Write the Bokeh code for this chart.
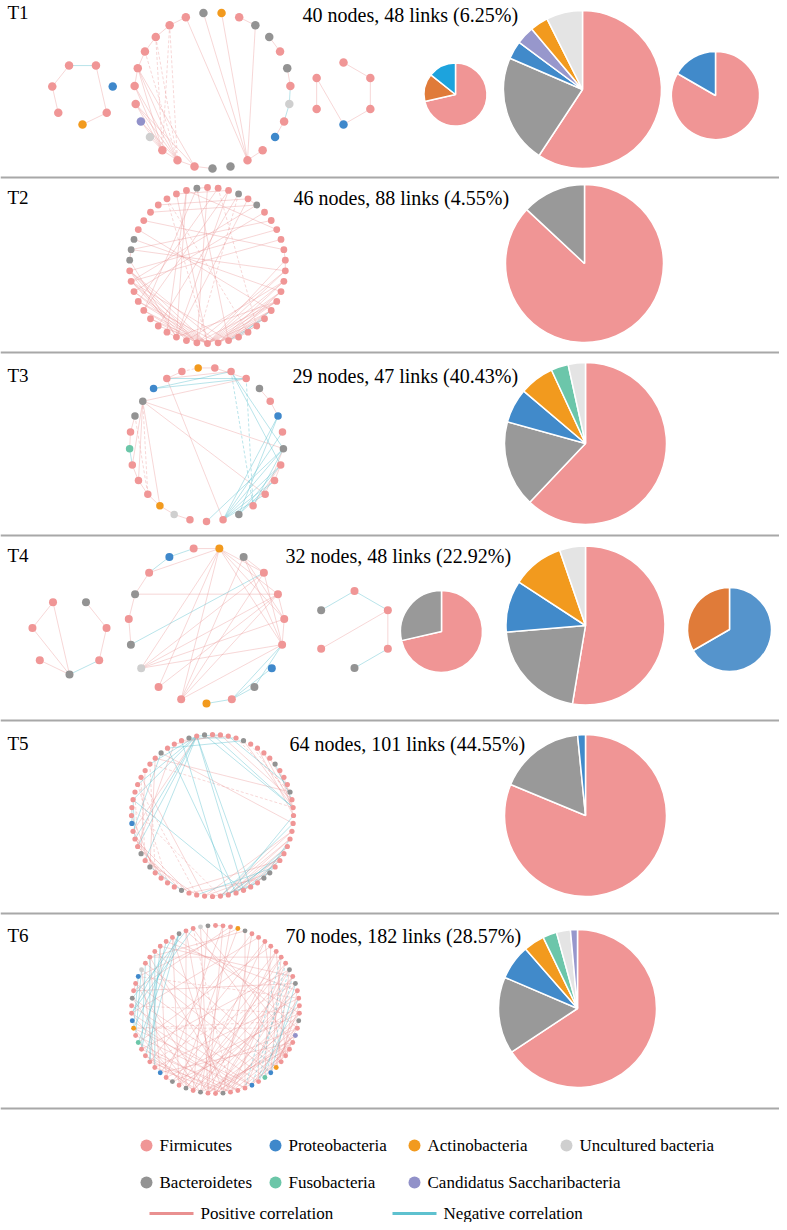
import math
from bokeh.plotting import figure
from bokeh.models import Range1d
from bokeh.embed import file_html
from bokeh.resources import INLINE
from bokeh.core.properties import value

# ---------------- data ----------------
panels = ["T1", "T2", "T3", "T4", "T5", "T6"]
n_nodes = [40, 46, 29, 32, 64, 70]
n_links = [48, 88, 47, 48, 101, 182]
neg_share = ["6.25%", "4.55%", "40.43%", "22.92%", "44.55%", "28.57%"]

phyla_codes = ["F", "P", "A", "U", "B", "S", "C"]
phyla_names = ["Firmicutes", "Proteobacteria", "Actinobacteria", "Uncultured bacteria",
               "Bacteroidetes", "Fusobacteria", "Candidatus Saccharibacteria"]
corr_names = ["Positive correlation", "Negative correlation"]

# node phylum sequences of every module (clockwise)
t1_left_nodes = "AFFFFPF"
t1_main_nodes = "BFFFUCFFFFFFFBAFBBFBFUFPFFB"
t1_right_nodes = "FFFPFF"
t2_nodes = "FFFBFBFFFFFFFFFFFFFFFFFFFFFFFFFFFFFBBBFFFFFFFB"
t3_nodes = "FFFBFPFBFFFFBFFFUAFFFSFBBPFFA"
t4_left_nodes = "BFFFBFF"
t4_main_nodes = "AFFUBFBFPFABFFFFPBF"
t4_right_nodes = "FFFBFB"
t5_nodes = "FFFFBFFFFBFFFBFFFFFFFFFFBBFFFFFFFFFFBFFFFBFBFFFPFFFFFFFFFBFFFBFB"
t6_nodes = "FFFABFFFFFFFBFBFFFFBFCFFFFAPSFPFFFBFFBFBFBFPFFFFSFAPFFBFFPUFFFFFFBFFUB"

# links: "a-b", suffix n = negative correlation, d = dashed
t1_left_links = "3-4n 3-2 2-1 4-6 6-0"
t1_main_links = ("12-25 13-25 14-25 16-25 15-16 17-18 19-20 20-21n 21-22n 24-25 22-23 "
                 "11-10 10-9 9-8 8-7 11-2d 11-3d 10-2d 10-3d 9-2d 8-2 8-3 8-1 7-2 7-3 "
                 "6-2 6-3 5-2 4-3 3-2 2-1 6-1 5-3 12-11 1-0")
t1_right_links = "0-1 1-2 2-3 5-3 5-4"
t2_links = ("34-23 34-24 34-22 33-23 33-24 33-21 32-23 32-24 31-23 31-22 30-24 30-23 29-24 "
            "29-23 28-23 35-26 34-26 33-25 13-23 13-22 14-23 14-22 14-21 15-23 15-22 15-24 "
            "16-23 16-21 16-22 17-22 17-23 18-22 18-21 12-23 12-24 11-23 13-25 15-26 43-23 "
            "42-23d 44-26 45-30 2-30 1-31 5-33 8-34 4-26 2-26 45-21 41-4 43-2 44-8 6-32 3-28 "
            "9-33 7-36 40-5 39-10 42-19d 1-18d 0-24 44-27 3-24d 38-16 37-14 36-12 45-0 4-5 "
            "10-11 11-12 19-20 20-21 26-27 35-36 17-21n 16-20n")
t3_links = ("27-28d 28-0 26-1 26-2n 25-2n 25-1n 24-2 26-13 24-7 24-10 24-19 24-18d 24-17 "
            "24-20 23-22 22-21 21-20n 20-19 19-18 18-17 23-18d 16-15 1-11nd 2-11nd 1-7n 1-8n "
            "13-5n 13-6n 13-7n 13-8n 13-9n 13-10n 12-5n 12-8n 12-9n 11-7n 11-8 10-7 9-8 3-4 "
            "4-5 0-2 7-14n 26-27 17-16")
t4_left_links = "3-2 3-0 2-0 1-0 0-6n 4-5 5-6"
t4_main_links = ("8-9n 8-7n 9-10 10-7 10-3 10-2 10-1 10-13 10-14 10-15 10-12 11-1 11-15 11-14 "
                 "11-12 12-4n 12-15 12-1 6-13 6-5 5-4 3-13 3-14 3-15 3-12 2-13 1-15 1-13 "
                 "18-15n 18-16n 18-17n 0-18n 17-15n 14-15 13-14 7-6")
t4_right_links = "5-0n 0-1n 1-2 1-4 2-3n"
t5_links = ("62-52n 62-55n 62-44n 62-42n 62-28n 62-27n 62-50n 62-46 62-45n 62-1n "
            "63-15n 0-15n 1-14 3-13d 4-15 5-14d 6-16 7-15 "
            "17-31n 16-30n 20-30 22-28n 21-29 19-30 18-31 23-27n 22-29 24-28 20-29n 19-31 21-30n 18-33 "
            "55-15d 50-28n 56-13 52-34d 53-33 49-31d 57-17 58-29n 60-30n "
            "51-44d 53-42d 54-43 55-40d 56-41 52-38d 50-45n 48-40 47-49n 57-46n 59-44 "
            "32-27 31-26n 33-24 34-23n 35-25 36-22 30-21 44-36 45-35 42-34 41-36n 43-35d "
            "61-3n 60-2 58-4n 59-1 2-12n 8-13 9-14n 11-15 10-16 26-20 25-19n 38-45 39-46 37-44d")
t6_links = ("65-50n 65-48n 64-52n 63-47n 62-45n 65-46n 61-44n "
            "66-35 67-33d 1-36 2-37 5-34 7-38 9-36 10-37 11-39 13-35 15-38 "
            "17-40 18-42 16-44 20-41 22-43 14-45d 12-47 19-50d "
            "57-16d 53-18d 55-14 50-20d 60-10 "
            "11-29nd 12-30nd 13-28nd 14-27n 10-31nd 16-29n "
            "44-34 45-33 46-34 47-32 48-33 49-31 50-30 51-32 52-31 53-30 54-29 56-28 58-27 59-26 "
            "33-22 34-21 35-20 36-19 32-23 31-24 30-22 34-18 36-17 33-16 37-15 38-13 39-12 40-10 "
            "62-13 63-15 64-18 66-20 68-22 67-24 61-25 2-55 3-57 4-60 6-52 8-48 "
            "60-45n 59-47n 58-49n 57-50n 66-54n 67-52n "
            "15-25 17-26 19-27 20-28 21-24 18-30 13-31 0-1 23-24 41-42 55-56 "
            "5-45 7-43 9-41 3-40 1-42 69-38 68-36 64-34 60-33 56-36 54-37 52-38 50-39 48-38 46-37 "
            "26-12 27-10 28-8 29-6 31-4 24-9 25-7 39-66 40-64 42-62 43-60 44-58 21-35 22-36 "
            "23-37 11-33 12-35 14-34")

# pie slice order (clockwise from 12 o'clock) for every module
t1_left_pie_order = "FAP"
t1_main_pie_order = "FBPCAU"
t1_right_pie_order = "FP"
t2_pie_order = "FB"
t3_pie_order = "FBPASU"
t4_left_pie_order = "FB"
t4_main_pie_order = "FBPAU"
t4_right_pie_order = "FB"
t5_pie_order = "FBP"
t6_pie_order = "FBPASUC"

# ---------------- styles ----------------
node_color = {"F": "#F09696", "P": "#3F88CB", "A": "#F29A1E", "U": "#CFCFCF",
              "B": "#939393", "S": "#6BC6A8", "C": "#9191C9"}
pie_color = {"F": "#F09595", "P": "#418ACA", "A": "#F29A1E", "U": "#E4E4E4",
             "B": "#999999", "S": "#6CC6AA", "C": "#9797CC"}
POS_COL = "#E99090"
NEG_COL = "#5EC1CF"
SERIF = "Liberation Serif, Times New Roman, serif"

# layout (page pixels): centre x, centre y, radius, first-node angle, node size
modules = [
    dict(nodes=t1_left_nodes, links=t1_left_links, c=(82, 93), r=31, a0=180, s=8.5,
         pie=t1_left_pie_order, pc=(455, 94), pr=31.5, pal={"A": "#E07B39", "P": "#1DA3DD"}),
    dict(nodes=t1_main_nodes, links=t1_main_links, c=(212, 90), r=78, a0=180, s=8.5,
         pie=t1_main_pie_order, pc=(582, 89), pr=79, pal={}),
    dict(nodes=t1_right_nodes, links=t1_right_links, c=(343, 93), r=31, a0=0, s=8.5,
         pie=t1_right_pie_order, pc=(715, 95), pr=44, pal={}),
    dict(nodes=t2_nodes, links=t2_links, c=(207, 265), r=78, a0=0, s=6.8,
         pie=t2_pie_order, pc=(584, 263), pr=79, pal={}),
    dict(nodes=t3_nodes, links=t3_links, c=(206, 444), r=77, a0=180 / 29, s=7.5,
         pie=t3_pie_order, pc=(585, 443), pr=81, pal={}),
    dict(nodes=t4_left_nodes, links=t4_left_links, c=(69, 636), r=38, a0=180, s=8,
         pie=t4_left_pie_order, pc=(441, 631), pr=41, pal={}),
    dict(nodes=t4_main_nodes, links=t4_main_links, c=(206, 625), r=78, a0=180, s=8,
         pie=t4_main_pie_order, pc=(585, 625), pr=79.5, pal={}),
    dict(nodes=t4_right_nodes, links=t4_right_links, c=(354, 629), r=38.5, a0=0, s=8,
         pie=t4_right_pie_order, pc=(729, 629), pr=42, pal={"F": "#5594CC", "B": "#E07B39"}),
    dict(nodes=t5_nodes, links=t5_links, c=(212, 815), r=81, a0=0, s=5.2,
         pie=t5_pie_order, pc=(585, 815), pr=81, pal={}),
    dict(nodes=t6_nodes, links=t6_links, c=(215, 1009), r=84, a0=0, s=4.9,
         pie=t6_pie_order, pc=(577, 1008), pr=79, pal={}),
]
label_pos = [(7, 12), (7, 197), (7, 375), (7, 555), (7, 743), (7, 935)]
title_pos = [(302, 14), (293, 197), (292, 375), (285, 555), (289, 743), (285, 935)]
separators = [177, 352, 535, 720, 913, 1108]
legend_pos = {"F": (146, 1145), "P": (275, 1145), "A": (414, 1145), "U": (566, 1145),
              "B": (146, 1182), "S": (275, 1182), "C": (414, 1182)}
corr_pos = [(149, 193, 1213), (392, 436, 1213)]

W, H = 779, 1222
p = figure(width=W, height=H, x_range=Range1d(0, W), y_range=Range1d(-H, 0),
           output_backend="svg", toolbar_location=None, min_border=0,
           x_axis_location=None, y_axis_location=None)
p.grid.visible = False
p.outline_line_color = None
p.background_fill_color = "white"
p.border_fill_color = "white"


def parse_links(s):
    out = []
    for tok in s.split():
        flags = tok.split("-")[1].lstrip("0123456789")
        a, b = tok.rstrip("nd").split("-")
        out.append((int(a), int(b), "n" in flags, "d" in flags))
    return out


groups = {(False, False): ([], []), (False, True): ([], []),
          (True, False): ([], []), (True, True): ([], [])}
nx, ny, ncol, nsize = [], [], [], []
for m in modules:
    n = len(m["nodes"])
    cx, cy = m["c"]
    pts = []
    for i in range(n):
        a = math.radians(m["a0"] + 360.0 * i / n)
        pts.append((cx + m["r"] * math.sin(a), cy - m["r"] * math.cos(a)))
    for a, b, neg, dash in parse_links(m["links"]):
        xs, ys = groups[(neg, dash)]
        xs.append([pts[a][0], pts[b][0]])
        ys.append([-pts[a][1], -pts[b][1]])
    for i, code in enumerate(m["nodes"]):
        nx.append(pts[i][0]); ny.append(-pts[i][1])
        ncol.append(node_color[code]); nsize.append(m["s"])

for (neg, dash), (xs, ys) in groups.items():
    if not xs:
        continue
    p.multi_line(xs=xs, ys=ys, line_color=NEG_COL if neg else POS_COL,
                 line_alpha=0.55 if neg else 0.45, line_width=0.8,
                 line_dash="3 2" if dash else "solid")

p.scatter(x=nx, y=ny, size=nsize, fill_color=ncol, line_color=None)

# pies built from module node composition
for m in modules:
    counts = [m["nodes"].count(c) for c in m["pie"]]
    tot = float(sum(counts))
    cum = 0.0
    cx, cy = m["pc"]
    for code, cnt in zip(m["pie"], counts):
        a0 = cum / tot * 2 * math.pi
        cum += cnt
        a1 = cum / tot * 2 * math.pi
        col = m["pal"].get(code, pie_color[code])
        p.wedge(x=[cx], y=[-cy], radius=m["pr"], start_angle=math.pi / 2 - a0,
                end_angle=math.pi / 2 - a1, direction="clock",
                fill_color=col, line_color="white", line_width=1.5)

# separators
p.segment(x0=[0] * len(separators), y0=[-y for y in separators], x1=[W] * len(separators),
          y1=[-y for y in separators], line_color="#A8A8A8", line_width=2)

# labels
p.text(x=[q[0] for q in label_pos], y=[-q[1] for q in label_pos], text=panels,
       text_font=value(SERIF), text_font_size="19px", text_baseline="middle",
       text_align="left", text_color="black")
titles = ["%d nodes, %d links (%s)" % (a, b, c) for a, b, c in zip(n_nodes, n_links, neg_share)]
p.text(x=[q[0] for q in title_pos], y=[-q[1] for q in title_pos], text=titles,
       text_font=value(SERIF), text_font_size="20px", text_baseline="middle",
       text_align="left", text_color="black")

# legend
lx, ly, lc, tx, ty, tt = [], [], [], [], [], []
for code, name in zip(phyla_codes, phyla_names):
    x, y = legend_pos[code]
    lx.append(x); ly.append(-y); lc.append(node_color[code])
    tx.append(x + 13); ty.append(-y); tt.append(name)
p.scatter(x=lx, y=ly, size=12, fill_color=lc, line_color=None)
p.text(x=tx, y=ty, text=tt, text_font=value(SERIF), text_font_size="17px",
       text_baseline="middle", text_align="left", text_color="black")
for (x0, x1, y), col in zip(corr_pos, [POS_COL, NEG_COL]):
    p.segment(x0=[x0], y0=[-y], x1=[x1], y1=[-y], line_color=col, line_width=3)
p.text(x=[q[1] + 7 for q in corr_pos], y=[-q[2] for q in corr_pos], text=corr_names,
       text_font=value(SERIF), text_font_size="17px", text_baseline="middle",
       text_align="left", text_color="black")

open("out.html", "w").write(file_html(p, INLINE))
